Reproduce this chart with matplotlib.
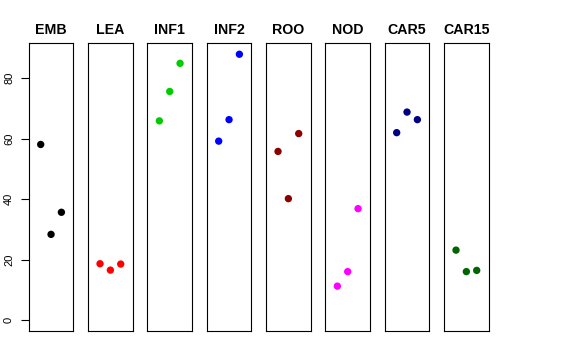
import matplotlib
matplotlib.use("Agg")
import matplotlib.pyplot as plt

plt.rcParams['font.family'] = ['Liberation Sans', 'DejaVu Sans']

groups = ["EMB", "LEA", "INF1", "INF2", "ROO", "NOD", "CAR5", "CAR15"]
colors = ["black", "red", "#00CD00", "blue", "#8B0000", "magenta", "#000080", "#006400"]
values = [
    [58.1, 28.4, 35.7],
    [18.7, 16.6, 18.6],
    [65.9, 75.6, 84.9],
    [59.2, 66.3, 87.9],
    [55.8, 40.2, 61.7],
    [11.3, 16.1, 36.9],
    [62.0, 68.8, 66.3],
    [23.2, 16.1, 16.5],
]
xpos = [1, 2, 3]
yticks = [0, 20, 40, 60, 80]

W, H = 576, 360
fig = plt.figure(figsize=(W / 100, H / 100), dpi=100)

left0 = 28.7
pw = 44.7
step = 59.33
top = 43.3
bottom = 331.0

for i, (g, c, v) in enumerate(zip(groups, colors, values)):
    x0 = left0 + i * step
    ax = fig.add_axes([x0 / W, 1 - bottom / H, pw / W, (bottom - top) / H])
    ax.scatter(xpos, v, s=28, color=c, edgecolors='none', zorder=3)
    ax.set_xlim(-0.16, 4.16)
    ax.set_ylim(-3.52, 91.52)
    ax.set_xticks([])
    for sp in ax.spines.values():
        sp.set_linewidth(0.8)
        sp.set_color("black")
    ax.set_title(g, fontsize=10.2, fontweight='bold', pad=7)
    if i == 0:
        ax.set_yticks(yticks)
        ax.set_yticklabels([str(t) for t in yticks], rotation=90, va='center', fontsize=8)
        ax.tick_params(axis='y', length=5.5, width=0.8, pad=5)
    else:
        ax.set_yticks([])

fig.savefig("out.png", dpi=100)
